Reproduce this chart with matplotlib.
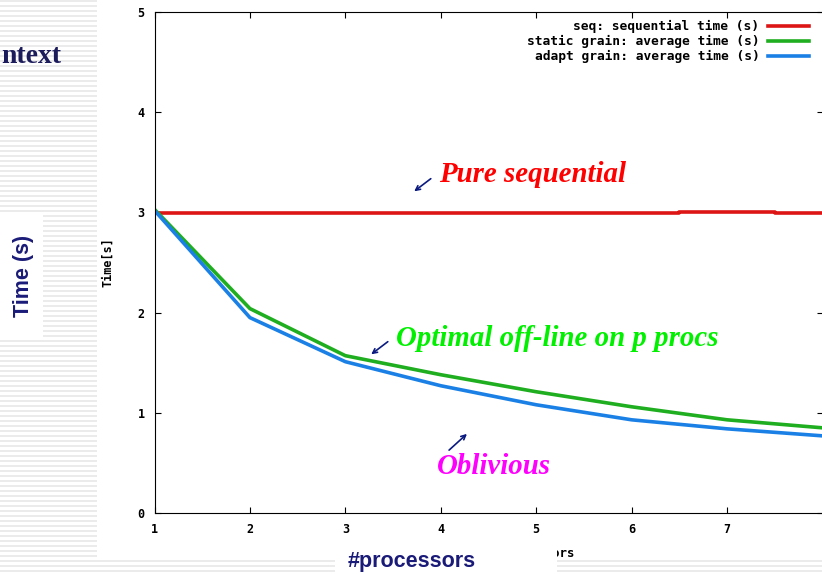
import matplotlib
matplotlib.use('Agg')
from matplotlib import pyplot as plt
import numpy as np

# data
procs = [1, 2, 3, 4, 5, 6, 7, 8]
static_grain = [3.03, 2.04, 1.57, 1.38, 1.21, 1.06, 0.93, 0.85]
adapt_grain = [3.02, 1.95, 1.51, 1.27, 1.08, 0.93, 0.84, 0.77]
seq_procs = [1, 6.5, 6.5, 7.5, 7.5, 8]
seq_time = [2.99, 2.99, 3.00, 3.00, 2.99, 2.99]

series_labels = ['seq: sequential time (s)',
                 'static grain: average time (s)',
                 'adapt grain: average time (s)']
xtick_vals = [1, 2, 3, 4, 5, 6, 7]
ytick_vals = [0, 1, 2, 3, 4, 5]

W, H = 822, 574
navy = '#1a1a78'
mono = 'DejaVu Sans Mono'

fig = plt.figure(figsize=(W / 100, H / 100), dpi=100)

# slide background: striped, with the white gnuplot picture
bg = fig.add_axes([0, 0, 1, 1], zorder=0)
bg.set_xlim(0, W)
bg.set_ylim(H, 0)
bg.axis('off')
for yy in np.arange(1, H, 5):
    bg.axhline(yy, color='#e6e6e6', lw=1.1, zorder=1)
bg.add_patch(plt.Rectangle((97, -1), W - 96, 558, color='white', lw=0, zorder=3))

# gnuplot chart
ax = fig.add_axes([154.5 / W, 61 / H, 668 / W, 501 / H], zorder=1)
ax.patch.set_alpha(0)
ax.plot(seq_procs, seq_time, color='#dd1515', lw=2.6, label=series_labels[0])
ax.plot(procs, static_grain, color='#1fae1f', lw=2.6, label=series_labels[1])
ax.plot(procs, adapt_grain, color='#1b80e6', lw=2.6, label=series_labels[2])
ax.set_xlim(1, 8)
ax.set_ylim(0, 5)
ax.set_xticks(xtick_vals)
ax.set_yticks(ytick_vals)
ax.tick_params(direction='in', length=4.5, width=0.8, top=True, right=True,
               labelsize=8.5, pad=7)
for lab in ax.get_xticklabels() + ax.get_yticklabels():
    lab.set_fontfamily(mono)
    lab.set_fontweight('bold')
for s in ax.spines.values():
    s.set_linewidth(0.8)
ax.set_ylabel('Time[s]', fontfamily=mono, fontweight='bold', fontsize=8.5)
ax.yaxis.set_label_coords(-0.06, 0.5)
ax.legend(loc='upper right', bbox_to_anchor=(1 - 14 / 668, 1 - 8 / 501),
          markerfirst=False, frameon=False, borderaxespad=0, borderpad=0,
          handlelength=3.1, handletextpad=0.7, labelspacing=0.15,
          prop={'family': mono, 'weight': 'bold', 'size': 9.3})

# slide overlay: titles, annotations
ov = fig.add_axes([0, 0, 1, 1], zorder=3)
ov.set_xlim(0, W)
ov.set_ylim(H, 0)
ov.axis('off')
ov.patch.set_alpha(0)

ov.text(575, 553, '#processors', ha='right', va='center', fontfamily=mono,
        fontweight='bold', fontsize=9, zorder=2)
ov.add_patch(plt.Rectangle((335, 544), 222, 32, color='white', lw=0, zorder=4))
ov.text(412, 561, '#processors', ha='center', va='center', color=navy,
        fontfamily='Liberation Sans', fontweight='bold', fontsize=15.5, zorder=5)

ov.add_patch(plt.Rectangle((-1, 213), 44, 124, color='white', lw=0, zorder=4))
ov.text(23, 276, 'Time (s)', ha='center', va='center', rotation=90, color=navy,
        fontfamily='Liberation Sans', fontweight='bold', fontsize=15.5, zorder=5)

ov.text(61, 63, 'ntext', ha='right', va='baseline', color='#1c1c5c',
        fontfamily='Liberation Serif', fontweight='bold', fontsize=20, zorder=5)

ann = dict(fontfamily='Liberation Serif', fontweight='bold', style='italic',
           fontsize=20.8, va='center', ha='left', zorder=5)
ov.text(439, 175, 'Pure sequential', color='#ff0000', **ann)
ov.text(396, 338, 'Optimal off-line on p procs', color='#00f000', **ann)
ov.text(437, 467, 'Oblivious', color='#ff00ff', **ann)

arrow = dict(arrowstyle='->', color='#0a1a80', lw=1.2, mutation_scale=8)
ov.annotate('', xy=(412, 193), xytext=(433, 177), arrowprops=arrow)
ov.annotate('', xy=(369, 356), xytext=(390, 340), arrowprops=arrow)
ov.annotate('', xy=(469, 432), xytext=(447, 452), arrowprops=arrow)

plt.savefig('out.png', dpi=100)
